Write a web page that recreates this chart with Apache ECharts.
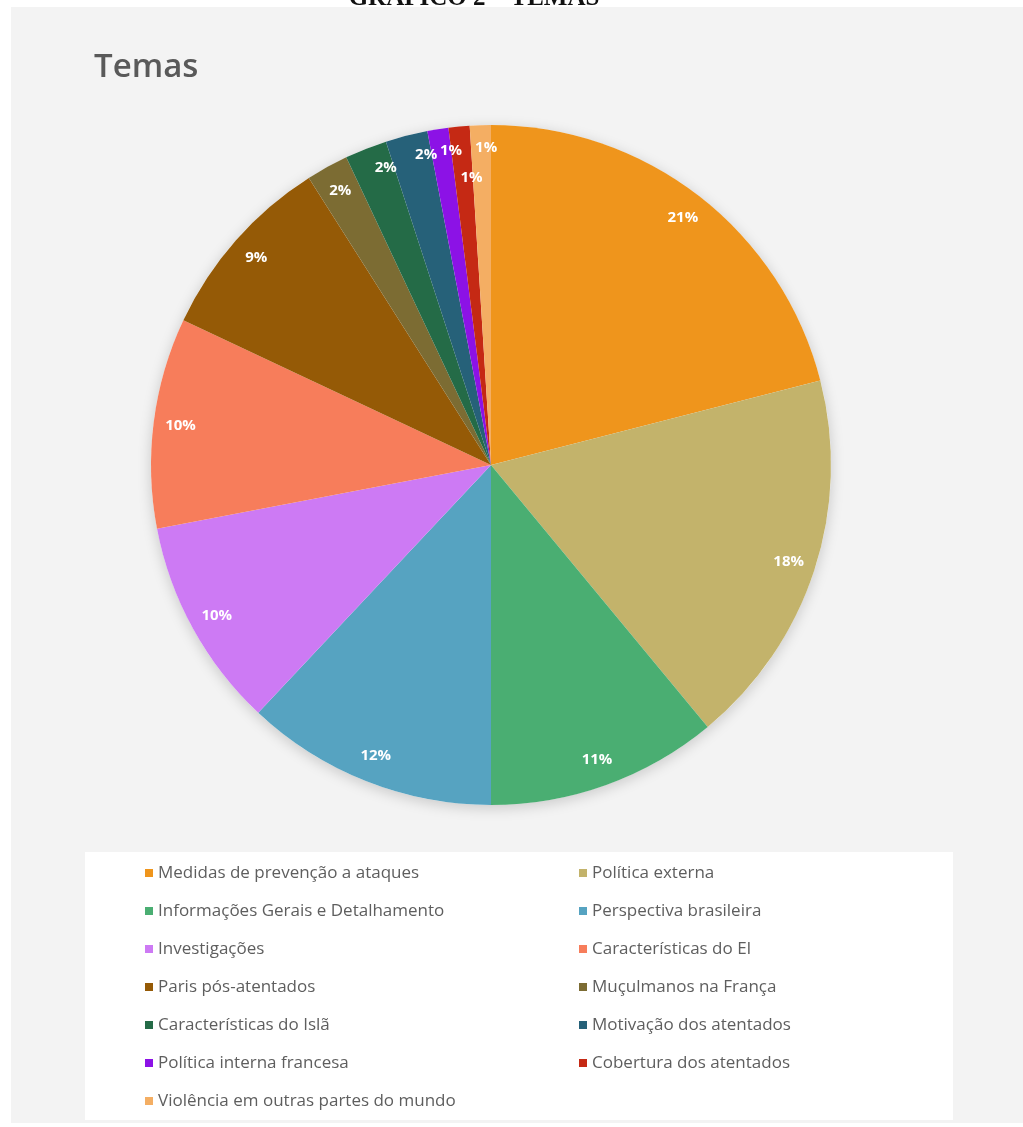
<!DOCTYPE html>
<html lang="pt">
<head>
<meta charset="utf-8">
<title>Temas</title>
<script src="https://cdn.jsdelivr.net/npm/echarts@6/dist/echarts.min.js"></script>
<style>
  html, body { margin: 0; padding: 0; background: #ffffff; }
  #panel { position: absolute; left: 11px; top: 7px; width: 1012px; height: 1116px; background: #f3f3f3; }
  #chart { position: absolute; left: 0; top: 0; width: 1023px; height: 1127px; }
</style>
</head>
<body>
<div id="panel"></div>
<div id="chart"></div>
<script>
// Temas abordados nas matérias (percentual de cada tema)
const categories = [
  'Medidas de prevenção a ataques',
  'Política externa',
  'Informações Gerais e Detalhamento',
  'Perspectiva brasileira',
  'Investigações',
  'Características do EI',
  'Paris pós-atentados',
  'Muçulmanos na França',
  'Características do Islã',
  'Motivação dos atentados',
  'Política interna francesa',
  'Cobertura dos atentados',
  'Violência em outras partes do mundo'
];
const shares = [21, 18, 11, 12, 10, 10, 9, 2, 2, 2, 1, 1, 1];

const colors = [
  '#ef951c', '#c3b36b', '#4aae72', '#56a3c1', '#cd7af4', '#f77d5b', '#955a06',
  '#7c6c33', '#246b47', '#266179', '#8c12e6', '#c52914', '#f4ae63'
];

// small slices near the top: nudge their labels apart so they stay readable
const labelNudge = {
  'Características do Islã': [10, -6],
  'Motivação dos atentados': [13, -7],
  'Política interna francesa': [9, -5],
  'Cobertura dos atentados': [10, 24],
  'Violência em outras partes do mundo': [5, -4]
};

const center = [491, 465];
const R = 340;

const sliceData = categories.map((name, i) => ({
  name, value: shares[i], itemStyle: { color: colors[i] }
}));

const labelData = categories.map((name, i) => {
  const d = { name, value: shares[i] };
  if (labelNudge[name]) d.label = { offset: labelNudge[name] };
  return d;
});

// legend in two columns: left-column entries get a wider text box
const legendData = categories.map((name, i) => ({
  name, textStyle: { width: i % 2 === 0 ? 411 : 350 }
}));

const chart = echarts.init(document.getElementById('chart'), null, { renderer: 'canvas' });

chart.setOption({
  backgroundColor: 'transparent',
  animation: false,
  color: colors,
  title: [
    {
      text: 'GRÁFICO 2 – TEMAS',
      left: 469, top: -19, textAlign: 'center',
      textStyle: { fontFamily: '"Liberation Serif", serif', fontWeight: 'bold', fontSize: 25, color: '#111' }
    },
    {
      text: 'Temas',
      left: 89, top: 46,
      textStyle: { fontFamily: '"Open Sans", sans-serif', fontWeight: 600, fontSize: 33, color: '#595959' }
    }
  ],
  legend: {
    data: legendData,
    orient: 'horizontal',
    left: 85, top: 852,
    width: 860,
    backgroundColor: '#ffffff',
    padding: [7, 11, 5, 60],
    icon: 'rect',
    itemWidth: 8, itemHeight: 8,
    itemGap: 10,
    textStyle: {
      fontFamily: '"Open Sans", sans-serif', fontSize: 17, color: '#5e5e5e',
      overflow: 'none', lineHeight: 28
    }
  },
  series: [
    {
      // faint shadow under the whole disc
      type: 'pie', silent: true, z: 1,
      center, radius: R,
      label: { show: false }, labelLine: { show: false },
      itemStyle: { color: '#ffffff', shadowBlur: 14, shadowColor: 'rgba(0,0,0,0.18)', shadowOffsetY: 3 },
      data: [{ value: 1, name: '' }]
    },
    {
      type: 'pie', z: 2,
      center, radius: R,
      startAngle: 90, clockwise: true,
      label: { show: false }, labelLine: { show: false },
      itemStyle: { borderWidth: 0 },
      emphasis: { disabled: true },
      data: sliceData
    },
    {
      // label ring: puts each percentage near the outer edge of its slice
      type: 'pie', z: 3, silent: true,
      center, radius: [280, R],
      startAngle: 90, clockwise: true,
      itemStyle: { color: 'rgba(0,0,0,0)' },
      emphasis: { disabled: true },
      labelLine: { show: false },
      label: {
        show: true, position: 'inside',
        formatter: p => Math.round(p.percent) + '%',
        fontFamily: '"Open Sans", sans-serif', fontWeight: 'bold', fontSize: 15,
        color: '#ffffff'
      },
      data: labelData
    }
  ]
});
</script>
</body>
</html>
